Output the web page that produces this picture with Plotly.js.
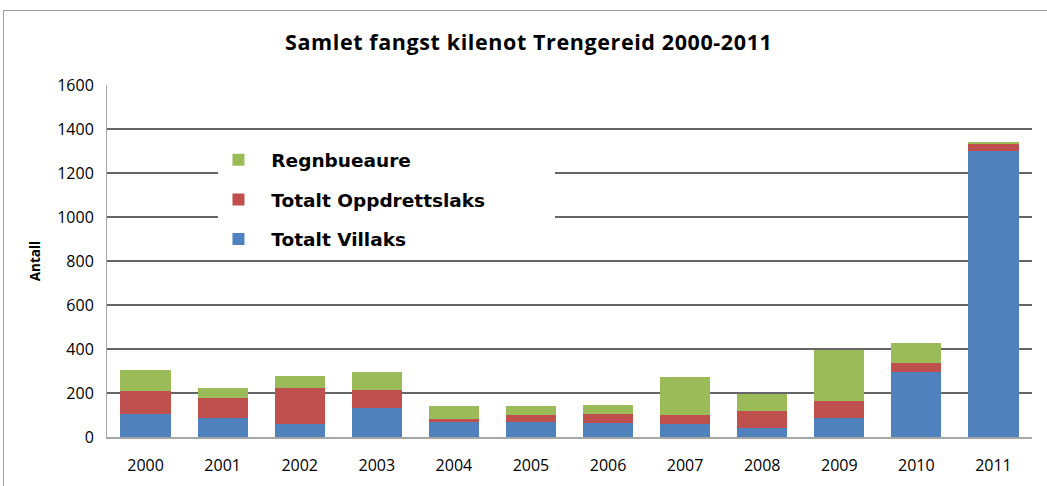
<!DOCTYPE html>
<html>
<head>
<meta charset="utf-8">
<script src="https://cdn.plot.ly/plotly-3.0.1.min.js"></script>
<style>
html,body{margin:0;padding:0;background:#fff;}
#chart{position:absolute;left:0;top:0;width:1047px;height:486px;}
#frame{position:absolute;left:3px;top:10px;width:1060px;height:490px;border:1px solid #a0a0a0;pointer-events:none;}
#chart .gtitle{letter-spacing:0.6px;}
</style>
</head>
<body>
<div id="chart"></div>
<div id="frame"></div>
<script>
const years = ['2000','2001','2002','2003','2004','2005','2006','2007','2008','2009','2010','2011'];
const villaks = [106, 88, 60, 130, 70, 70, 65, 60, 42, 85, 297, 1302];
const oppdrettslaks = [104, 91, 164, 85, 13, 31, 41, 41, 78, 80, 41, 32];
const regnbueaure = [96, 45, 55, 82, 59, 41, 41, 173, 74, 229, 91, 9];
const seriesNames = ['Totalt Villaks', 'Totalt Oppdrettslaks', 'Regnbueaure'];

const FONT = '"Open Sans", Lato, sans-serif';
const LEGFONT = '"DejaVu Sans", Verdana, sans-serif';
const NB = '\u00a0\u00a0';
const PAD = '\u00a0'.repeat(10);

const traces = [
  {type:'bar', name:NB+seriesNames[0], x:years, y:villaks, marker:{color:'#4F81BD'}, legendgroup:'c', legendrank:3},
  {type:'bar', name:NB+seriesNames[1]+PAD, x:years, y:oppdrettslaks, marker:{color:'#C0504D'}, legendgroup:'b', legendrank:2},
  {type:'bar', name:NB+seriesNames[2], x:years, y:regnbueaure, marker:{color:'#9BBB59'}, legendgroup:'a', legendrank:1}
];

const layout = {
  width:1047, height:486,
  margin:{l:107, r:15, t:85, b:49},
  paper_bgcolor:'#fff', plot_bgcolor:'#fff',
  barmode:'stack', bargap:0.35,
  font:{family:FONT, color:'#000'},
  title:{text:'<b>Samlet fangst kilenot Trengereid 2000-2011</b>', x:0.505, xanchor:'center', y:0.912, yanchor:'middle', font:{size:21.5, family:FONT}},
  xaxis:{type:'category', showgrid:false, showline:true, linecolor:'#a6a6a6', linewidth:2, ticks:'', tickfont:{size:16}, ticklabelstandoff:13, fixedrange:true},
  yaxis:{range:[0,1600], dtick:200, showgrid:true, gridcolor:'#666666', gridwidth:1.3, showline:true, linecolor:'#a6a6a6', linewidth:1, ticks:'', tickfont:{size:16}, ticklabelstandoff:9, zeroline:false,
    title:{text:'<b>Antall</b>', font:{size:13.5}, standoff:13}},
  legend:{x:0.1205, xanchor:'left', y:0.84, yanchor:'top', bgcolor:'#ffffff', borderwidth:0, traceorder:'grouped', tracegroupgap:12.5, font:{size:18.5, family:LEGFONT, weight:'bold'}}
};

Plotly.newPlot('chart', traces, layout, {displayModeBar:false, staticPlot:true});
</script>
</body>
</html>
